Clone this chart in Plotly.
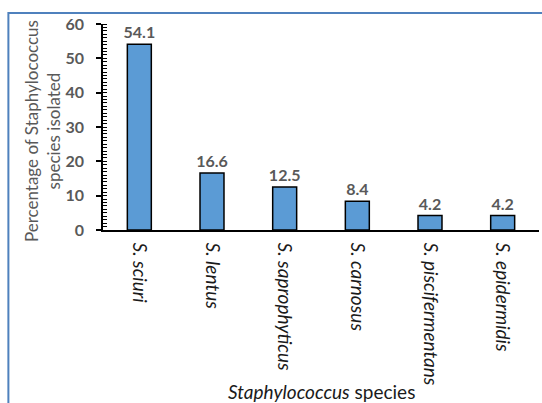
import plotly.graph_objects as go

species = ["S. sciuri", "S. lentus", "S. saprophyticus", "S. carnosus", "S. piscifermentans", "S. epidermidis"]
percent = [54.1, 16.6, 12.5, 8.4, 4.2, 4.2]
value_labels = ["54.1", "16.6", "12.5", "8.4", "4.2", "4.2"]
y_ticks = [0, 10, 20, 30, 40, 50, 60]

FONT = "Lato"
GRAY = "#595959"

fig = go.Figure(go.Bar(
    x=species, y=percent, text=value_labels, textposition="outside",
    constraintext="none",
    textfont=dict(family=FONT, size=16, color=GRAY, weight="bold"),
    marker=dict(color="#5B9BD5", line=dict(color="black", width=1.5)),
    cliponaxis=False,
))

fig.update_layout(
    width=542, height=403,
    margin=dict(l=103, r=3, t=24, b=173),
    paper_bgcolor="white", plot_bgcolor="white",
    bargap=0.67, showlegend=False,
    font=dict(family=FONT),
    xaxis=dict(
        showline=True, linecolor="black", linewidth=1.5,
        ticks="", tickangle=90, automargin=False, ticklabelstandoff=7,
        ticktext=["<i>" + s + "</i>" for s in species], tickvals=species,
        tickfont=dict(family=FONT, size=19, color="#1a1a1a"),
    ),
    yaxis=dict(
        range=[0, 60], tickvals=y_ticks, showgrid=False, zeroline=False,
        showline=True, linecolor="black", linewidth=1.5, automargin=False,
        ticks="outside", ticklen=5, tickwidth=1.5, tickcolor="black",
        ticklabelstandoff=9,
        minor=dict(dtick=1, ticks="inside", ticklen=4, tickwidth=1, tickcolor="black", showgrid=False),
        tickfont=dict(family=FONT, size=16, color=GRAY, weight="bold"),
    ),
    annotations=[
        dict(text="Percentage of Staphylococcus<br>species isolated", textangle=-90,
             xref="paper", yref="paper", x=-0.14, y=0.48, showarrow=False,
             xanchor="center", yanchor="middle",
             font=dict(family=FONT, size=17, color=GRAY)),
        dict(text="<i>Staphylococcus</i> species",
             xref="paper", yref="paper", x=0.5, y=-0.786, showarrow=False,
             xanchor="center", yanchor="middle",
             font=dict(family=FONT, size=19, color="#1a1a1a")),
    ],
    shapes=[dict(type="rect", xref="paper", yref="paper",
                 x0=-0.217, x1=1.2, y0=-1.2, y1=1.053,
                 line=dict(color="#4F81BD", width=2), fillcolor="rgba(0,0,0,0)", layer="below")],
)

fig.write_html("out.html", config={"displayModeBar": False},
               post_script="document.body.style.margin='0px';")
